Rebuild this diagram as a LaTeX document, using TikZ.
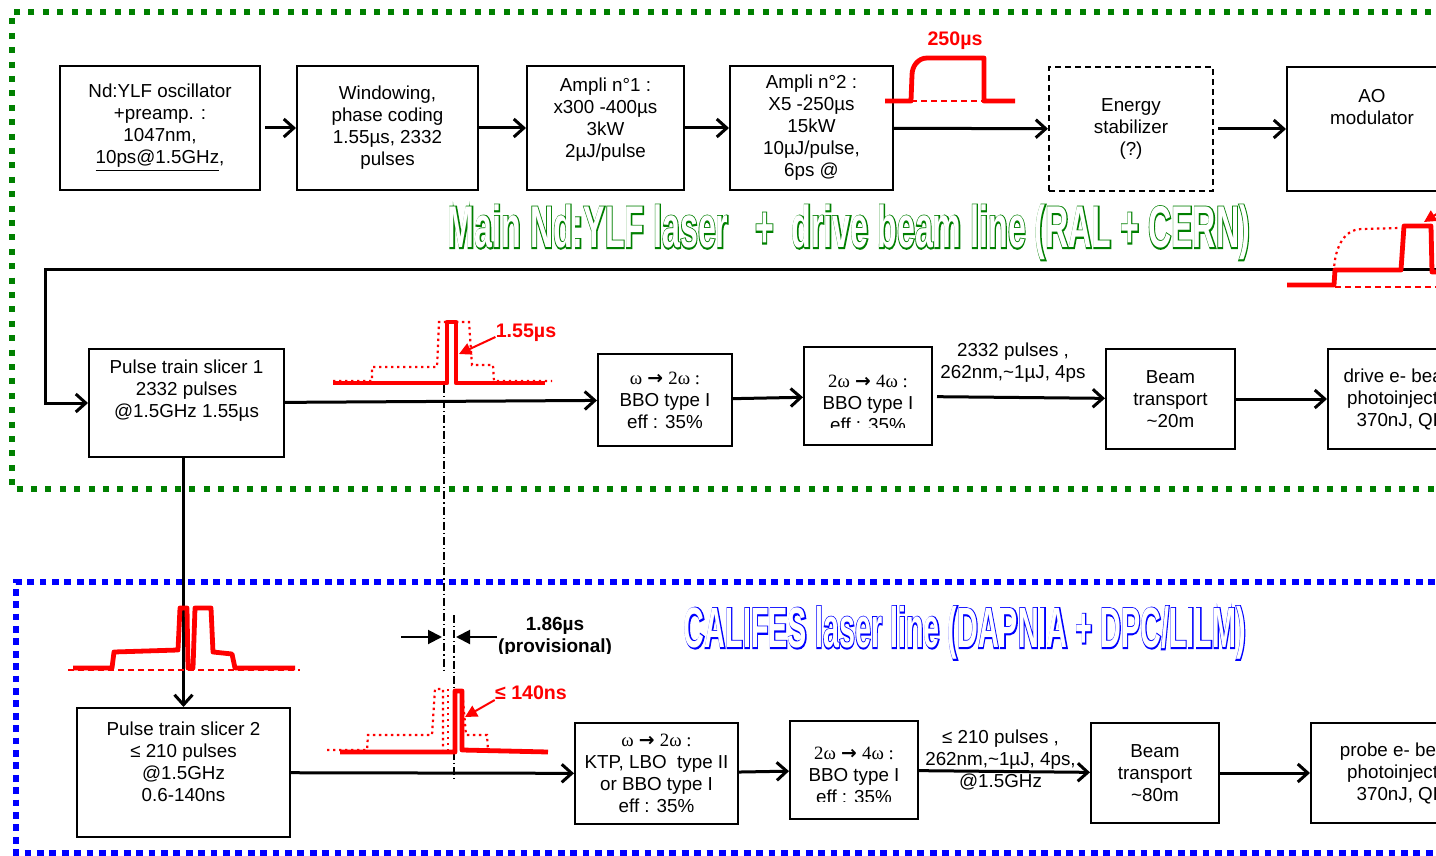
\documentclass[tikz,border=0pt]{standalone}
\usepackage{graphicx}
\usepackage{fontspec}
\setmainfont{Liberation Sans}
\newfontfamily\serifw{Liberation Serif}
\newfontfamily\arrowf{DejaVu Sans}
\newfontfamily\ttlfont{Liberation Sans Bold}
\newfontfamily\ttlfontB[FakeBold=5]{Liberation Sans Bold}
\usepackage{xcolor}
\usetikzlibrary{arrows.meta, positioning}
\definecolor{framegreen}{HTML}{008000}
\definecolor{frameblue}{HTML}{0000FF}
\definecolor{pulsered}{HTML}{FF0000}
\newcommand{\boxfont}{\fontsize{9.4}{11}\selectfont}
\newcommand{\harm}[2]{{\serifw #1} {\arrowf\bfseries →} {\serifw #2 :}}

\begin{document}
\begin{tikzpicture}[
  x=0.5pt, y=-0.5pt,
  bx/.style={draw, line width=1pt, align=center, inner sep=0pt, font=\boxfont},
  txt/.style={align=center, inner sep=0pt, font=\boxfont},
  ar/.style={-{Straight Barb[length=5pt,width=9pt]}, line width=1.5pt},
  kar/.style={-{Triangle[length=7pt,width=7pt]}, line width=1pt},
  rar/.style={-{Triangle[length=6pt,width=6pt]}, pulsered, line width=1pt},
  rlbl/.style={text=pulsered, inner sep=0pt, font=\fontsize{9.8}{11}\selectfont\bfseries},
  blbl/.style={align=center, inner sep=0pt, font=\fontsize{9.5}{11}\selectfont\bfseries},
  ttl/.style={inner sep=0pt},
  gframe/.style={framegreen, line width=3pt, dash pattern=on 3pt off 4.2pt},
  bframe/.style={frameblue, line width=3pt, dash pattern=on 3.4pt off 2.8pt},
  pth/.style={pulsered, line width=2.4pt, line join=round},
  pdot/.style={pulsered, line width=1.1pt, dash pattern=on 1.2pt off 1.8pt},
  pdash/.style={pulsered, line width=0.6pt, dash pattern=on 3pt off 2pt},
  dd/.style={line width=0.6pt, dash pattern=on 4pt off 1.5pt on 0.6pt off 1.5pt},
]
  \useasboundingbox (0,0) rectangle (1436,856);
  \clip (0,0) rectangle (1436,856);

  % frames
  \draw[gframe] (1460,12) -- (12,12) -- (12,489) -- (1460,489);
  \draw[bframe] (1460,582) -- (16,582) -- (16,853) -- (1460,853);

  % titles
  \node[ttl, text=framegreen] (ttlg) at (849,232.5)
    {\resizebox*{401pt}{27.5pt}{\ttlfontB Main Nd:YLF laser\ \ \ +\ \ drive beam line (RAL + CERN)}};
  \node[ttl, text=white] (ttlgw) at (849,232.5)
    {\resizebox*{401pt}{27.5pt}{\ttlfont Main Nd:YLF laser\ \ \ +\ \ drive beam line (RAL + CERN)}};
  \node[ttl, text=frameblue] (ttlb) at (965,633)
    {\resizebox*{281pt}{26.5pt}{\ttlfontB CALIFES laser line (DAPNIA + DPC/LILM)}};
  \node[ttl, text=white] (ttlbw) at (965,633)
    {\resizebox*{281pt}{26.5pt}{\ttlfont CALIFES laser line (DAPNIA + DPC/LILM)}};

  % main laser
  \node[bx, minimum width=100pt, minimum height=62pt] (osc) at (160,128)
    {Nd:YLF oscillator\\+preamp. :\\1047nm,\\\underline{10ps@1.5GHz},};
  \node[bx, minimum width=90.5pt, minimum height=62pt] (win) at (387.5,128)
    {Windowing,\\phase coding\\1.55µs, 2332\\pulses};
  \node[bx, minimum width=78.5pt, minimum height=62pt] (amp1) at (605.5,128) {};
  \node[txt] (amp1t) at (605.5,120) {Ampli n°1 :\\x300 -400µs\\3kW\\2µJ/pulse};
  \node[bx, minimum width=81.5pt, minimum height=62pt] (amp2) at (811.5,128)
    {Ampli n°2 :\\X5 -250µs\\15kW\\10µJ/pulse,\\6ps @};
  \node[bx, dash pattern=on 3pt off 2pt, minimum width=82pt, minimum height=62pt] (stab) at (1131,129)
    {Energy\\stabilizer\\(?)};
  \node[bx, minimum width=85pt, minimum height=62pt] (ao) at (1372,129) {};
  \node[txt] (aot) at (1372,107) {AO\\modulator};

  \draw[ar, shorten <=2pt] (osc) -- (win);
  \draw[ar] (win) -- (amp1);
  \draw[ar] (amp1) -- (amp2);
  \draw[ar] (amp2) -- (stab);
  \draw[ar, shorten <=2pt] (stab) -- (ao);

  % drive beam line
  \node[bx, minimum width=97.5pt, minimum height=54pt] (sl1) at (186.5,403) {};
  \node[txt] (sl1t) at (186.5,391) {Pulse train slicer 1\\2332 pulses\\@1.5GHz 1.55µs};
  \node[bx, minimum width=67pt, minimum height=46pt] (shg1) at (665,400)
    {\harm{ω}{2ω}\\BBO type I\\eff : 35\%};
  \node[bx, minimum width=64pt, minimum height=49pt] (fhg1) at (868,396) {};
  \begin{scope}
    \clip (fhg1.north west) rectangle (932,427);
    \node[txt] (fhg1t) at (868,403) {\harm{2ω}{4ω}\\BBO type I\\eff : 35\%};
  \end{scope}
  \node[bx, minimum width=64.5pt, minimum height=50pt] (bt1) at (1170.5,399)
    {Beam\\transport\\\textasciitilde 20m};
  \node[bx, minimum width=73pt, minimum height=50pt] (inj1) at (1401,399)
    {drive e- beam\\photoinjector\\370nJ, QE};

  \coordinate (ret) at (1460,269);
  \coordinate (bend) at (45,269);
  \draw[ar] (ret) -- (bend) |- (sl1);
  \draw[ar] (sl1) -- (shg1);
  \draw[ar] (shg1) -- (fhg1);
  \draw[ar, shorten <=2pt] (fhg1) -- node[txt, above=7pt, xshift=-3pt] (lbl1)
    {2332 pulses ,\\262nm,\textasciitilde 1µJ, 4ps} (bt1);
  \draw[ar] (bt1) -- (inj1);

  % CALIFES line
  \node[bx, minimum width=106.5pt, minimum height=64.5pt] (sl2) at (183.5,772.5) {};
  \node[txt] (sl2t) at (183.5,762) {Pulse train slicer 2\\≤ 210 pulses\\@1.5GHz\\0.6-140ns};
  \node[bx, minimum width=81.5pt, minimum height=50.5pt] (shg2) at (656.5,773.5)
    {\harm{ω}{2ω}\\KTP, LBO\ \ type II\\or BBO type I\\eff : 35\%};
  \node[bx, minimum width=64pt, minimum height=49pt] (fhg2) at (854,770) {};
  \begin{scope}
    \clip (fhg2.north west) rectangle (918,801);
    \node[txt] (fhg2t) at (854,775) {\harm{2ω}{4ω}\\BBO type I\\eff : 35\%};
  \end{scope}
  \node[bx, minimum width=64pt, minimum height=50pt] (bt2) at (1155,773)
    {Beam\\transport\\\textasciitilde 80m};
  \node[bx, minimum width=90pt, minimum height=50pt] (inj2) at (1401,773)
    {probe e- beam\\photoinjector\\370nJ, QE};

  \draw[ar] (sl1.south -| sl2.north) -- (sl2.north);
  \draw[ar] (sl2) -- (shg2);
  \draw[ar] (shg2) -- (fhg2);
  \draw[ar] (fhg2) -- node[txt, yshift=6pt, xshift=-2pt] (lbl2)
    {≤ 210 pulses ,\\262nm,\textasciitilde 1µJ, 4ps,\\@1.5GHz} (bt2);
  \draw[ar] (bt2) -- (inj2);

  % timing marks
  \coordinate (dd1a) at (444,385);
  \coordinate (dd1b) at (444,670);
  \coordinate (dd2a) at (454,615);
  \coordinate (dd2b) at (454,780);
  \draw[dd] (dd1a) -- (dd1b);
  \draw[dd] (dd2a) -- (dd2b);
  \coordinate (ma) at (401,637);
  \coordinate (mb) at (442,637);
  \coordinate (mc) at (497,637);
  \coordinate (md) at (456,637);
  \draw[kar] (ma) -- (mb);
  \draw[kar] (mc) -- (md);
  \begin{scope}
    \clip (480,600) rectangle (640,653);
    \node[blbl] (t186) at (555,637) {1.86µs\\(provisional)};
  \end{scope}

  % pulse shapes
  \draw[pdash] (911,101) -- (984,101);
  \draw[pth] (885,101) -- (911,101) -- (912,75) to[out=90,in=180] (927,58)
    -- (984,58) -- (984,101) -- (1015,101);
  \node[rlbl] (t250) at (955,41) {250µs};

  \draw[pdash] (1335,287) -- (1436,287);
  \draw[pdot] (1334,272) to[out=90,in=180] (1362,229) -- (1400,228);
  \draw[pth] (1287,285) -- (1334,285) -- (1335,270) -- (1401,270) -- (1404,226)
    -- (1431,226) -- (1432,272) -- (1460,272);
  \coordinate (pao0) at (1462,198);
  \coordinate (pao) at (1424,222);
  \draw[rar] (pao0) -- (pao);

  \draw[pdot] (333,381) -- (372,381) -- (372,367) -- (437,367) -- (439,322) -- (469,322)
    -- (472,365) -- (493,365) -- (494,381) -- (552,381);
  \draw[pth] (333,383) -- (447,383) -- (447,322) -- (456,322) -- (456,383) -- (545,383);
  \node[rlbl] (t155) at (526,333) {1.55µs};
  \coordinate (p155) at (459,354);
  \draw[rar] ([yshift=-2pt]t155.west) -- (p155);

  \draw[pdash] (68,670) -- (300,670);
  \draw[pth] (73,668) -- (112,668) -- (114,652) -- (178,650) -- (180,608) -- (187,608)
    -- (188,668) -- (193,668) -- (195,608) -- (211,608) -- (213,652) -- (232,654)
    -- (235,668) -- (295,668);

  \draw[pdot] (327,750) -- (367,750) -- (368,735) -- (432,735) -- (435,689) -- (443,689)
    -- (443,750);
  \draw[pdot] (448,689) -- (448,750);
  \draw[pdot] (463,700) -- (466,735) -- (487,735) -- (488,750);
  \draw[pth] (340,752) -- (455,752) -- (455,691) -- (462,691) -- (462,750) -- (548,752);
  \node[rlbl] (t140) at (531,693) {≤ 140ns};
  \coordinate (p140) at (465,717);
  \draw[rar] ([yshift=-3.5pt]t140.west) -- (p140);
\end{tikzpicture}
\end{document}
